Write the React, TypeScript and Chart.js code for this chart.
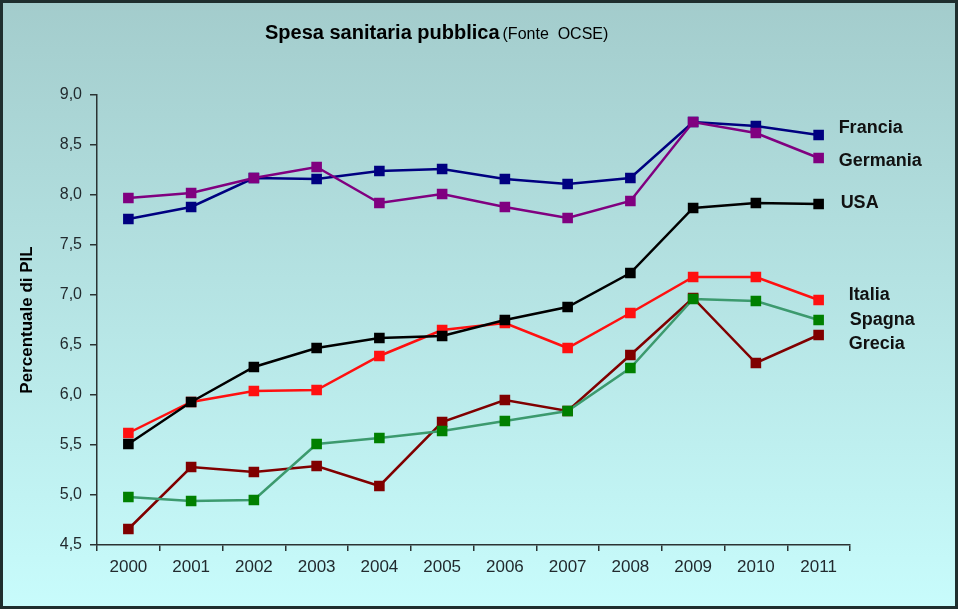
import React, { useEffect, useRef } from "react";
import { Chart, registerables } from "chart.js";

Chart.register(...registerables);

const years = ["2000", "2001", "2002", "2003", "2004", "2005", "2006", "2007", "2008", "2009", "2010", "2011"];

const francia = [7.76, 7.88, 8.17, 8.16, 8.24, 8.26, 8.16, 8.11, 8.17, 8.73, 8.69, 8.6];
const germania = [7.97, 8.02, 8.17, 8.28, 7.92, 8.01, 7.88, 7.77, 7.94, 8.73, 8.62, 8.37];
const usa = [5.51, 5.93, 6.28, 6.47, 6.57, 6.59, 6.75, 6.88, 7.22, 7.87, 7.92, 7.91];
const italia = [5.62, 5.93, 6.04, 6.05, 6.39, 6.65, 6.72, 6.47, 6.82, 7.18, 7.18, 6.95];
const spagna = [4.98, 4.94, 4.95, 5.51, 5.57, 5.64, 5.74, 5.84, 6.27, 6.96, 6.94, 6.75];
const grecia = [4.66, 5.28, 5.23, 5.29, 5.09, 5.73, 5.95, 5.84, 6.4, 6.97, 6.32, 6.6];

const Y_MIN = 4.5;
const Y_MAX = 9.0;
const Y_STEP = 0.5;

const titleMain = "Spesa sanitaria pubblica";
const titleSource = "(Fonte  OCSE)";
const yAxisTitle = "Percentuale di PIL";

const FONT = "'Liberation Sans', Arial, sans-serif";

type Series = {
  name: string;
  data: number[];
  line: string;
  point: string;
  order: number;
  dx: number;
  dy: number;
};

const series: Series[] = [
  { name: "Francia", data: francia, line: "#000080", point: "#000080", order: 2, dx: 20, dy: -7 },
  { name: "Germania", data: germania, line: "#800080", point: "#800080", order: 1, dx: 20, dy: 3 },
  { name: "USA", data: usa, line: "#000000", point: "#000000", order: 0, dx: 22, dy: -1 },
  { name: "Italia", data: italia, line: "#ff1010", point: "#ff1010", order: 5, dx: 30, dy: -5 },
  { name: "Spagna", data: spagna, line: "#3c9a6e", point: "#008000", order: 3, dx: 31, dy: 0 },
  { name: "Grecia", data: grecia, line: "#800000", point: "#800000", order: 4, dx: 30, dy: 9 },
];

const backgroundPlugin = {
  id: "bgPlugin",
  beforeDraw(chart: any) {
    const { ctx, width, height } = chart;
    ctx.save();
    const g = ctx.createLinearGradient(0, 0, 0, height);
    g.addColorStop(0, "#a3cccc");
    g.addColorStop(1, "#c8fcfc");
    ctx.fillStyle = g;
    ctx.fillRect(0, 0, width, height);
    ctx.restore();
  },
  afterDraw(chart: any) {
    const { ctx, width, height } = chart;
    ctx.save();
    // title
    ctx.fillStyle = "#000000";
    ctx.textBaseline = "alphabetic";
    ctx.textAlign = "left";
    ctx.font = `bold 20px ${FONT}`;
    const x0 = 265;
    const yb = 39;
    ctx.fillText(titleMain, x0, yb);
    const w = ctx.measureText(titleMain).width;
    ctx.font = `16px ${FONT}`;
    ctx.fillText(titleSource, x0 + w + 3, yb);

    // series labels at line ends
    ctx.font = `bold 18px ${FONT}`;
    ctx.textBaseline = "middle";
    ctx.fillStyle = "#111111";
    chart.data.datasets.forEach((ds: any, i: number) => {
      const meta = chart.getDatasetMeta(i);
      const pts = meta.data;
      const last = pts[pts.length - 1];
      if (!last) return;
      ctx.fillText(ds.label, last.x + ds.labelDx, last.y + ds.labelDy);
    });

    // border
    ctx.strokeStyle = "#1f2e2e";
    ctx.lineWidth = 3;
    ctx.strokeRect(1.5, 1.5, width - 3, height - 3);
    ctx.restore();
  },
};

export default function App() {
  const ref = useRef<HTMLCanvasElement | null>(null);

  useEffect(() => {
    document.body.style.margin = "0";
    const canvas = ref.current;
    if (!canvas) return;
    const chart = new Chart(canvas, {
      type: "line",
      data: {
        labels: years,
        datasets: series.map((s) => ({
          label: s.name,
          data: s.data,
          borderColor: s.line,
          backgroundColor: s.point,
          pointBackgroundColor: s.point,
          pointBorderColor: s.point,
          pointStyle: "rect",
          pointRadius: 7.5,
          pointBorderWidth: 0,
          borderWidth: 2.5,
          tension: 0,
          fill: false,
          order: s.order,
          labelDx: s.dx,
          labelDy: s.dy,
        })) as any,
      },
      options: {
        responsive: false,
        animation: false,
        devicePixelRatio: 1,
        layout: { padding: { top: 95, right: 108, bottom: 0, left: 0 } },
        plugins: {
          legend: { display: false },
          title: { display: false },
          tooltip: { enabled: false },
        },
        scales: {
          x: {
            type: "category",
            offset: true,
            afterFit: (scale: any) => {
              scale.height = 64;
            },
            grid: {
              display: true,
              offset: true,
              drawOnChartArea: false,
              drawTicks: true,
              tickLength: 6,
              color: "#2a3333",
              lineWidth: 1.5,
            },
            border: { display: true, color: "#2a3333", width: 1.5 },
            ticks: {
              color: "#222a2e",
              font: { family: FONT, size: 17 },
              padding: 6,
              maxRotation: 0,
            },
          },
          y: {
            min: Y_MIN,
            max: Y_MAX,
            afterFit: (scale: any) => {
              scale.width = 97;
            },
            grid: {
              display: true,
              drawOnChartArea: false,
              drawTicks: true,
              tickLength: 7,
              color: "#2a3333",
              lineWidth: 1.5,
            },
            border: { display: true, color: "#2a3333", width: 1.5 },
            ticks: {
              stepSize: Y_STEP,
              color: "#222a2e",
              font: { family: FONT, size: 16 },
              padding: 8,
              callback: (v: any) => Number(v).toFixed(1).replace(".", ","),
            },
            title: {
              display: true,
              text: yAxisTitle,
              color: "#000000",
              font: { family: FONT, size: 17, weight: "bold" },
              padding: { top: 17, bottom: 0 },
            },
          },
        },
      },
      plugins: [backgroundPlugin],
    });
    return () => chart.destroy();
  }, []);

  return (
    <canvas
      ref={ref}
      width={958}
      height={609}
      style={{ position: "fixed", left: 0, top: 0, width: 958, height: 609, display: "block" }}
    />
  );
}
